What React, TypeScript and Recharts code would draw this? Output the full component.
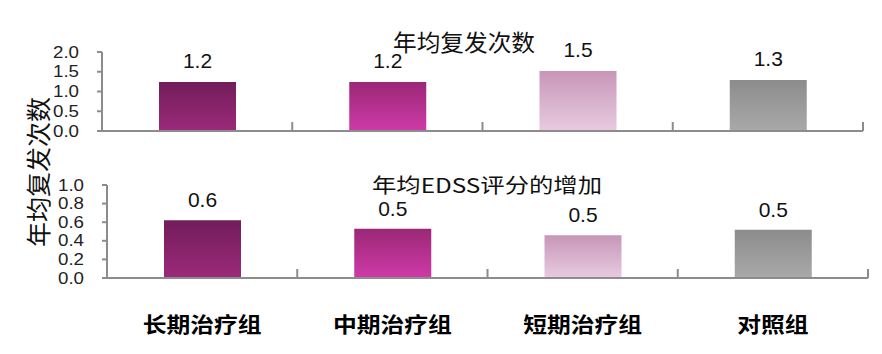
import React from "react";
import { BarChart, Bar, XAxis, YAxis, Cell, LabelList } from "recharts";

const categories = ["长期治疗组", "中期治疗组", "短期治疗组", "对照组"];
const relapseRate = [1.24, 1.24, 1.52, 1.29];
const edssIncrease = [0.62, 0.53, 0.46, 0.52];
const relapseTicks = [0, 0.5, 1, 1.5, 2];
const edssTicks = [0, 0.2, 0.4, 0.6, 0.8, 1];

const relapseData = categories.map((name, i) => ({ name, value: relapseRate[i] }));
const edssData = categories.map((name, i) => ({ name, value: edssIncrease[i] }));

// top / bottom colour of each bar gradient
const gradients = [
  ["#721d5a", "#9c2a7a"],
  ["#9a2876", "#cf3aa8"],
  ["#c796b8", "#e8cbe0"],
  ["#8c8c8c", "#a9a9a9"],
];

const AXIS = "#8c8c8c";
const NUM_FONT = "'Liberation Sans', Arial, sans-serif";
const CJK_FONT = "'Noto Sans CJK SC', sans-serif";
const BAND = 761 / 4;

function Gradients({ prefix }: { prefix: string }) {
  return (
    <defs>
      {gradients.map(([a, b], i) => (
        <linearGradient key={i} id={`${prefix}${i}`} x1="0" y1="0" x2="0" y2="1">
          <stop offset="0%" stopColor={a} />
          <stop offset="100%" stopColor={b} />
        </linearGradient>
      ))}
    </defs>
  );
}

function makeYTick(axisX: number) {
  return (props: any) => {
    const { y, payload } = props;
    return (
      <g>
        <line x1={axisX - 5} x2={axisX} y1={y} y2={y} stroke={AXIS} strokeWidth={2} />
        <text
          x={axisX - 23}
          y={y}
          textAnchor="end"
          dominantBaseline="central"
          fontFamily={NUM_FONT}
          fontSize={16}
          textLength={26}
          lengthAdjust="spacingAndGlyphs"
          fill="#222"
        >
          {payload.value.toFixed(1)}
        </text>
      </g>
    );
  };
}

function makeXTick(axisY: number, showText: boolean) {
  return (props: any) => {
    const { x, payload } = props;
    const bx = x + BAND / 2;
    return (
      <g>
        <line x1={bx} x2={bx} y1={axisY - 9} y2={axisY} stroke={AXIS} strokeWidth={2} />
        {showText && (
          <text
            x={x}
            y={323}
            textAnchor="middle"
            dominantBaseline="central"
            fontFamily={CJK_FONT}
            fontWeight={700}
            fontSize={21}
            textLength={String(payload.value).length * 23.8}
            lengthAdjust="spacingAndGlyphs"
            fill="#000"
          >
            {payload.value}
          </text>
        )}
      </g>
    );
  };
}

const labelStyle = { fontFamily: NUM_FONT, fontSize: 21, fill: "#111" };

export default function App() {
  return (
    <div
      style={{
        position: "fixed",
        left: 0,
        top: 0,
        width: 882,
        height: 354,
        background: "#fff",
        overflow: "hidden",
      }}
    >
      <div style={{ position: "absolute", left: 0, top: 0 }}>
        <BarChart
          width={882}
          height={141}
          data={relapseData}
          margin={{ top: 52, right: 19, left: 0, bottom: 0 }}
        >
          <Gradients prefix="gTop" />
          <XAxis
            dataKey="name"
            height={10}
            axisLine={{ stroke: AXIS, strokeWidth: 2 }}
            tickLine={false}
            tick={makeXTick(131, false)}
            interval={0}
          />
          <YAxis
            width={102}
            domain={[0, 2]}
            ticks={relapseTicks}
            axisLine={{ stroke: AXIS, strokeWidth: 2 }}
            tickLine={false}
            tick={makeYTick(102)}
            interval={0}
          />
          <Bar dataKey="value" barSize={77} isAnimationActive={false}>
            {relapseData.map((_, i) => (
              <Cell key={i} fill={`url(#gTop${i})`} />
            ))}
            <LabelList
              dataKey="value"
              position="top"
              offset={14}
              formatter={(v: any) => Number(v).toFixed(1)}
              style={labelStyle}
            />
          </Bar>
        </BarChart>
      </div>

      <div style={{ position: "absolute", left: 0, top: 0 }}>
        <BarChart
          width={882}
          height={354}
          data={edssData}
          margin={{ top: 185, right: 14, left: 0, bottom: 0 }}
        >
          <Gradients prefix="gBot" />
          <XAxis
            dataKey="name"
            height={76}
            axisLine={{ stroke: AXIS, strokeWidth: 2 }}
            tickLine={false}
            tick={makeXTick(278, true)}
            interval={0}
          />
          <YAxis
            width={107}
            domain={[0, 1]}
            ticks={edssTicks}
            axisLine={{ stroke: AXIS, strokeWidth: 2 }}
            tickLine={false}
            tick={makeYTick(107)}
            interval={0}
          />
          <Bar dataKey="value" barSize={77} isAnimationActive={false}>
            {edssData.map((_, i) => (
              <Cell key={i} fill={`url(#gBot${i})`} />
            ))}
            <LabelList
              dataKey="value"
              position="top"
              offset={13}
              formatter={(v: any) => Number(v).toFixed(1)}
              style={labelStyle}
            />
          </Bar>
        </BarChart>
      </div>

      <svg
        width={882}
        height={354}
        style={{ position: "absolute", left: 0, top: 0, pointerEvents: "none" }}
      >
        <text
          x={464}
          y={41}
          textAnchor="middle"
          dominantBaseline="central"
          fontFamily={CJK_FONT}
          fontSize={23}
          textLength={142}
          lengthAdjust="spacingAndGlyphs"
          fill="#111"
        >
          年均复发次数
        </text>
        <text
          x={487}
          y={184}
          textAnchor="middle"
          dominantBaseline="central"
          fontFamily={CJK_FONT}
          fontSize={20}
          textLength={230}
          lengthAdjust="spacingAndGlyphs"
          fill="#111"
        >
          年均EDSS评分的增加
        </text>
        <text
          x={0}
          y={0}
          transform="translate(37,172) rotate(-90)"
          textAnchor="middle"
          dominantBaseline="central"
          fontFamily={CJK_FONT}
          fontSize={25}
          textLength={150}
          lengthAdjust="spacingAndGlyphs"
          fill="#111"
        >
          年均复发次数
        </text>
      </svg>
    </div>
  );
}
